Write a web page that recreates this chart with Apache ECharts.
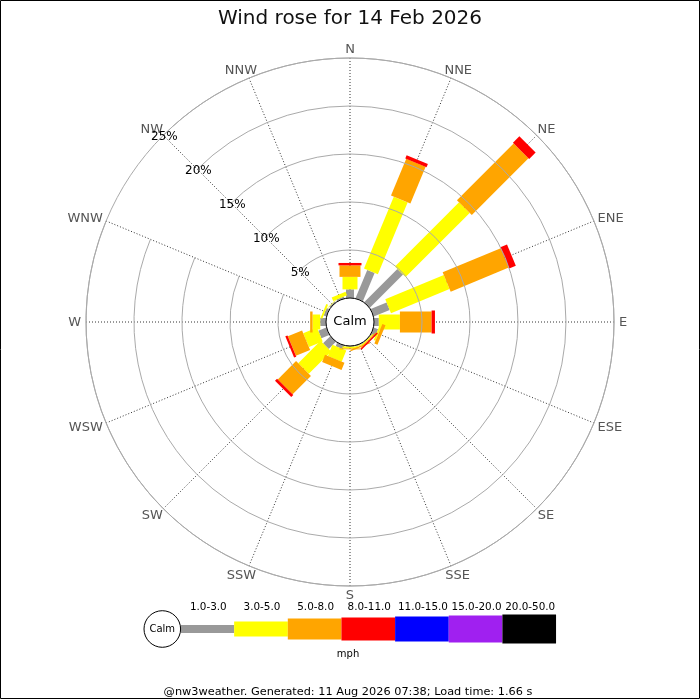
<!DOCTYPE html>
<html>
<head>
<meta charset="utf-8">
<script src="https://cdn.jsdelivr.net/npm/echarts@6/dist/echarts.min.js"></script>
<style>
html,body{margin:0;padding:0;background:#fff;}
#chart{width:700px;height:700px;}
</style>
</head>
<body>
<div id="chart"></div>
<script>
// ---------------- data ----------------
const titleText = 'Wind rose for 14 Feb 2026';
const footerText = '@nw3weather. Generated: 11 Aug 2026 07:38; Load time: 1.66 s';
const unitLabel = 'mph';
const calmLabel = 'Calm';
const directions = ['N','NNE','NE','ENE','E','ESE','SE','SSE','S','SSW','SW','WSW','W','WNW','NW','NNW'];
const speedBins = ['1.0-3.0','3.0-5.0','5.0-8.0','8.0-11.0','11.0-15.0','15.0-20.0','20.0-50.0'];
// frequency (%) per direction, one array per speed bin (order as `directions`)
const freq_1_3   = [0.9, 3.2, 4.9, 1.8, 0.5, 0.5, 0.05, 0.1, 0.05, 0.4, 1.05, 0.9, 0.6, 0.3, 0.15, 0.2];
const freq_3_5   = [1.3, 8.1, 9.45, 6.6, 2.2, 0.2, 0.1, 0.1, 0.2, 1.25, 3.3, 1.55, 0.8, 0.2, 0.05, 0.4];
const freq_5_8   = [1.2, 4.15, 8.35, 6.55, 3.3, 0.35, 0.1, 0.15, 0.1, 0.8, 2.7, 1.6, 0.25, 0, 0, 0];
const freq_8_11  = [0.25, 0.35, 0.95, 0.75, 0.35, 0, 0.15, 0, 0, 0, 0.3, 0.25, 0, 0, 0, 0];
const freq_11_15 = [0,0,0,0,0,0,0,0,0,0,0,0,0,0,0,0];
const freq_15_20 = [0,0,0,0,0,0,0,0,0,0,0,0,0,0,0,0];
const freq_20_50 = [0,0,0,0,0,0,0,0,0,0,0,0,0,0,0,0];
const radialMax = 25;
const radialStep = 5;

// ---------------- style ----------------
const binFreqs = [freq_1_3, freq_3_5, freq_5_8, freq_8_11, freq_11_15, freq_15_20, freq_20_50];
const binColors = ['#999999','#ffff00','#ffa500','#ff0000','#0000ff','#a020f0','#000000'];
const binWidths = [8, 15, 21, 23, 25, 27, 29];
const CENTER = [350, 322];
const CALM_R = 24;
const OUTER_R = 264;
const FONT = '"DejaVu Sans", Verdana, sans-serif';
const DIR_FONT_SIZE = 13;
const DIR_GAP_X = 5;
const DIR_GAP_Y = 9;
const DIR_Y_NUDGE = 1;

// angle axis starts at NW so the radius axis labels lie along NW
const angleOrder = directions.slice(14).concat(directions.slice(0, 14));

const measureCtx = document.createElement('canvas').getContext('2d');
measureCtx.font = DIR_FONT_SIZE + 'px ' + FONT;

function unitAt(api, ang) {
  const o = api.coord([0, ang]);
  const far = api.coord([radialMax, ang]);
  let ux = far[0] - o[0], uy = far[1] - o[1];
  const L = Math.hypot(ux, uy);
  return [ux / L, uy / L, far];
}

function makeRender(b) {
  return function (params, api) {
    const end = api.value(0), ang = api.value(1), start = api.value(2);
    const u = unitAt(api, ang);
    const p0 = api.coord([start, ang]);
    const p1 = api.coord([end, ang]);
    const hw = binWidths[b] / 2;
    const px = -u[1] * hw, py = u[0] * hw;
    return {
      type: 'polygon',
      shape: { points: [
        [p0[0] + px, p0[1] + py], [p1[0] + px, p1[1] + py],
        [p1[0] - px, p1[1] - py], [p0[0] - px, p0[1] - py]
      ]},
      style: { fill: binColors[b] }
    };
  };
}

const cum = directions.map(() => 0);
const series = binFreqs.map((vals, b) => {
  const data = [];
  vals.forEach((v, i) => {
    const s = cum[i];
    cum[i] += v;
    if (v > 0) data.push([cum[i], directions[i], s]);
  });
  return {
    type: 'custom',
    name: speedBins[b],
    coordinateSystem: 'polar',
    encode: { radius: 0, angle: 1 },
    renderItem: makeRender(b),
    data: data,
    z: 3 + b,
    silent: true
  };
});

// compass direction labels, placed just outside the outer ring
series.push({
  type: 'custom',
  name: 'directions',
  coordinateSystem: 'polar',
  encode: { radius: 0, angle: 1 },
  data: directions.map(d => [radialMax, d]),
  silent: true,
  z: 20,
  renderItem: function (params, api) {
    const ang = api.value(1);
    const u = unitAt(api, ang);
    const text = directions[params.dataIndex];
    const w = measureCtx.measureText(text).width;
    return {
      type: 'text',
      x: u[2][0] + u[0] * (DIR_GAP_X + w / 2),
      y: u[2][1] + u[1] * DIR_GAP_Y + DIR_Y_NUDGE,
      style: { text: text, align: 'center', verticalAlign: 'middle',
               font: DIR_FONT_SIZE + 'px ' + FONT, fill: '#555' }
    };
  }
});

// ---------------- legend graphics ----------------
const graphics = [];
graphics.push({ type: 'rect', shape: { x: 0.5, y: 0.5, width: 699, height: 698 },
  style: { fill: null, stroke: '#000', lineWidth: 1 }, z: 200, silent: true });
graphics.push({ type: 'circle', shape: { cx: CENTER[0], cy: CENTER[1], r: CALM_R },
  style: { fill: '#fff', stroke: '#000', lineWidth: 1 }, z: 100 });
graphics.push({ type: 'text', x: CENTER[0], y: CENTER[1],
  style: { text: calmLabel, align: 'center', verticalAlign: 'middle', font: '13px ' + FONT, fill: '#000' }, z: 101 });

const LEG_Y = 629, LEG_X0 = 180.5, LEG_STEP = 53.65;
graphics.push({ type: 'circle', shape: { cx: 162.3, cy: LEG_Y, r: 18.3 },
  style: { fill: '#fff', stroke: '#000', lineWidth: 1 }, z: 100 });
graphics.push({ type: 'text', x: 162.3, y: LEG_Y,
  style: { text: calmLabel, align: 'center', verticalAlign: 'middle', font: '10px ' + FONT, fill: '#000' }, z: 101 });
speedBins.forEach((lab, b) => {
  const x = LEG_X0 + b * LEG_STEP;
  graphics.push({ type: 'rect', shape: { x: x, y: LEG_Y - binWidths[b] / 2, width: LEG_STEP, height: binWidths[b] },
    style: { fill: binColors[b] }, z: 99 });
  graphics.push({ type: 'text', x: x + LEG_STEP / 2 + 1, y: 607,
    style: { text: lab, align: 'center', verticalAlign: 'middle', font: '10.4px ' + FONT, fill: '#000' }, z: 101 });
});
graphics.push({ type: 'text', x: 348, y: 654,
  style: { text: unitLabel, align: 'center', verticalAlign: 'middle', font: '10px ' + FONT, fill: '#000' }, z: 101 });
graphics.push({ type: 'text', x: 348, y: 692,
  style: { text: footerText, align: 'center', verticalAlign: 'middle', font: '11.3px ' + FONT, fill: '#000' }, z: 101 });

// ---------------- chart ----------------
const chart = echarts.init(document.getElementById('chart'), null, { renderer: 'canvas' });
chart.setOption({
  animation: false,
  backgroundColor: '#fff',
  title: {
    text: titleText, left: 'center', top: 4,
    textStyle: { fontFamily: FONT, fontSize: 20, fontWeight: 'normal', color: '#111' }
  },
  polar: { center: CENTER, radius: [CALM_R, OUTER_R] },
  angleAxis: {
    type: 'category',
    data: angleOrder,
    boundaryGap: false,
    startAngle: 135,
    clockwise: true,
    axisLine: { show: true, lineStyle: { color: '#aaa', width: 1 } },
    axisTick: { show: false },
    axisLabel: { show: false },
    splitLine: { show: true, lineStyle: { color: '#333', width: 1, type: [1, 2] } }
  },
  radiusAxis: {
    type: 'value',
    min: 0, max: radialMax, interval: radialStep,
    axisLine: { show: false },
    axisTick: { show: false },
    splitLine: { show: true, lineStyle: { color: '#aaa', width: 1 } },
    axisLabel: {
      show: true, margin: 2, showMinLabel: false,
      align: 'center', verticalAlign: 'middle', padding: [0, 0, 0, 5],
      color: '#000', fontSize: 12, fontFamily: FONT,
      formatter: v => (v === 0 ? '' : v + '%')
    },
    z: 50
  },
  series: series,
  graphic: graphics
});
</script>
</body>
</html>
